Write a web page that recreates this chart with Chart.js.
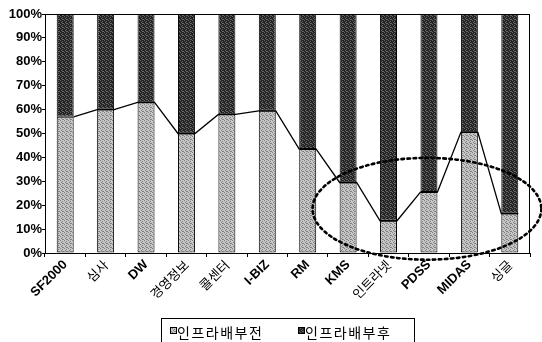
<!DOCTYPE html>
<html>
<head>
<meta charset="utf-8">
<script src="https://cdn.jsdelivr.net/npm/chart.js@4.4.1/dist/chart.umd.min.js"></script>
<style>
  html, body { margin: 0; padding: 0; background: #fff; overflow: hidden; }
  #wrap { width: 542px; height: 342px; }
</style>
</head>
<body>
<div id="wrap"><canvas id="chart"></canvas></div>
<script>
const categories = ['SF2000', '심사', 'DW', '경영정보', '콜센터', 'I-BIZ', 'RM', 'KMS', '인트라넷', 'PDSS', 'MIDAS', '싱글']
const beforeAlloc = [57, 60, 63, 50, 58, 59.5, 43.5, 29.5, 13.5, 25.5, 50.5, 16.5]
const afterAlloc = [43, 40, 37, 50, 42, 40.5, 56.5, 70.5, 86.5, 74.5, 49.5, 83.5]
const yTicks = [0, 10, 20, 30, 40, 50, 60, 70, 80, 90, 100]

const FONT = "'Liberation Sans', Arial, 'Noto Sans CJK KR', sans-serif"
const KFONT = "'Noto Sans CJK KR', sans-serif"

// small dithered fill, like the printed stipple
function stipple(base, speck) {
  const c = document.createElement('canvas')
  c.width = c.height = 4
  const g = c.getContext('2d')
  g.fillStyle = base
  g.fillRect(0, 0, 4, 4)
  g.fillStyle = speck
  ;[[0, 0], [2, 1], [1, 2], [3, 3], [2, 3]].forEach(([x, y]) => g.fillRect(x, y, 1, 1))
  return g.createPattern(c, 'repeat')
}

// line joining the tops of the lower segments (Excel "series lines")
const seriesLines = {
  id: 'seriesLines',
  afterDatasetsDraw(chart) {
    const bars = chart.getDatasetMeta(0).data
    const ctx = chart.ctx
    ctx.save()
    ctx.strokeStyle = '#000'
    ctx.lineWidth = 1.3
    ctx.beginPath()
    bars.forEach((b, i) => {
      const half = b.width / 2
      if (i === 0) ctx.moveTo(b.x + half, b.y)
      else { ctx.lineTo(b.x - half, b.y); ctx.lineTo(b.x + half, b.y) }
    })
    ctx.stroke()
    ctx.restore()
  }
}

// plot frame, boxed legend and the dotted ellipse drawn on the scan
const extras = {
  id: 'extras',
  afterDraw(chart) {
    const ctx = chart.ctx
    const a = chart.chartArea
    ctx.save()
    ctx.strokeStyle = '#000'
    ctx.lineWidth = 1
    ctx.strokeRect(a.left + 0.5, a.top + 0.5, a.right - a.left - 1, a.bottom - a.top)

    // legend
    ctx.strokeRect(161.5, 318.5, 253, 40)
    const itemX = [170, 298]
    ctx.font = '14px ' + KFONT
    ctx.letterSpacing = '1.5px'
    ctx.textBaseline = 'middle'
    ctx.textAlign = 'left'
    chart.data.datasets.forEach((ds, i) => {
      ctx.fillStyle = ds.backgroundColor
      ctx.fillRect(itemX[i], 327, 7, 7)
      ctx.strokeRect(itemX[i] + 0.5, 327.5, 6, 6)
      ctx.fillStyle = '#000'
      ctx.fillText(ds.label, itemX[i] + 7, 333)
    })
    ctx.letterSpacing = '0px'

    const x = chart.scales.x
    const y = chart.scales.y
    const step = x.getPixelForValue(1) - x.getPixelForValue(0)
    const cx = x.getPixelForValue(0) + step * 8.95
    const cy = y.getPixelForValue(18.5)
    const rx = step * 2.83
    const ry = y.getPixelForValue(0) - y.getPixelForValue(21.3)
    ctx.beginPath()
    ctx.ellipse(cx, cy, rx, ry, 0, 0, Math.PI * 2)
    ctx.lineWidth = 2.6
    ctx.setLineDash([2.5, 3.5])
    ctx.lineCap = 'round'
    ctx.stroke()
    ctx.restore()
  }
}

const isHangul = (s) => /[\uac00-\ud7a3]/.test(s)

const ctx = document.getElementById('chart')

const chart = new Chart(ctx, {
  type: 'bar',
  data: {
    labels: categories,
    datasets: [{
      label: '인프라배부전',
      data: beforeAlloc,
      backgroundColor: stipple('#c6c6c6', '#818181'),
      borderColor: '#000',
      borderWidth: 1,
      borderSkipped: false
    }, {
      label: '인프라배부후',
      data: afterAlloc,
      backgroundColor: stipple('#242424', '#666666'),
      borderColor: '#000',
      borderWidth: 1,
      borderSkipped: false
    }]
  },
  options: {
    responsive: true,
    maintainAspectRatio: false,
    animation: false,
    layout: { padding: { top: 14, left: 0, right: 12, bottom: 23 } },
    datasets: { bar: { categoryPercentage: 1, barPercentage: 0.42 } },
    scales: {
      x: {
        stacked: true,
        grid: { display: true, drawOnChartArea: false, offset: true, tickLength: 4, color: '#000' },
        border: { display: true, color: '#000' },
        ticks: {
          autoSkip: false, minRotation: 45, maxRotation: 45, padding: 0,
          color: '#000',
          font: (c) => isHangul(categories[c.index] || '')
            ? { family: KFONT, size: 13, weight: 'normal' }
            : { family: FONT, size: 13, weight: 'bold' }
        },
        afterFit: (s) => { s.height = 66 }
      },
      y: {
        stacked: true,
        min: 0, max: 100,
        afterBuildTicks: (s) => { s.ticks = yTicks.map(v => ({ value: v })) },
        grid: { display: true, drawOnChartArea: false, tickLength: 3, color: '#000' },
        border: { display: true, color: '#000' },
        ticks: {
          padding: 0, color: '#000',
          font: { family: FONT, size: 13, weight: 'bold' },
          callback: (v) => v + '%'
        },
        afterFit: (s) => { s.width = 45 }
      }
    },
    plugins: {
      legend: { display: false },
      tooltip: { enabled: false }
    }
  },
  plugins: [seriesLines, extras]
})
</script>
</body>
</html>
